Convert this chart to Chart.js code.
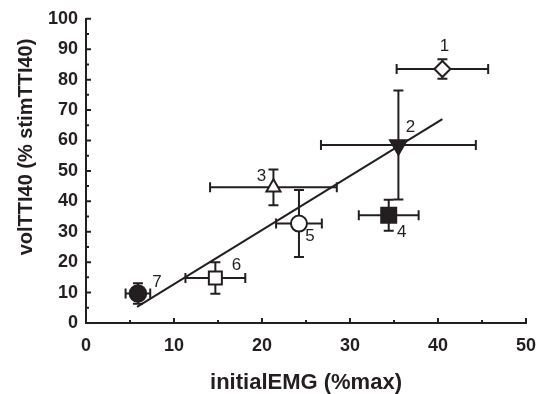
<!DOCTYPE html>
<html>
<head>
<meta charset="utf-8">
<script src="https://cdn.jsdelivr.net/npm/chart.js@4.4.1/dist/chart.umd.min.js"></script>
<style>
  html, body { margin: 0; padding: 0; background: #fff; }
  #wrap { width: 538px; height: 394px; }
</style>
</head>
<body>
<div id="wrap"><canvas id="chart" width="538" height="394"></canvas></div>
<script>
// data
var ptLabels = ['1', '2', '3', '4', '5', '6', '7'];
var emgX = [40.5, 35.5, 21.3, 34.4, 24.2, 14.7, 5.9];
var ttiY = [83.5, 58.5, 44.6, 35.4, 32.7, 14.8, 9.7];
var errX = [5.2, 8.8, 7.2, 3.4, 2.6, 3.4, 1.4];
var errY = [3.2, 17.9, 5.9, 5.1, 11.0, 5.2, 3.4];
var fitX = [5.8, 40.5];
var fitY = [5.3, 67.0];
var xTickVals = [0, 10, 20, 30, 40, 50];
var yTickVals = [0, 10, 20, 30, 40, 50, 60, 70, 80, 90, 100];
var xTitle = 'initialEMG (%max)';
var yTitle = 'volTTI40 (% stimTTI40)';

var ink = '#231f20';
var fontFam = '"Liberation Sans", Arial, sans-serif';

// marker look per point
var styles = ['rectRot', 'triangle', 'triangle', 'rect', 'circle', 'rect', 'circle'];
var rots = [0, 180, 0, 0, 0, 0, 0];
var fills = ['#fff', ink, '#fff', ink, '#fff', '#fff', ink];
var radii = [8, 9.6, 8.1, 10.6, 8, 9.2, 8.3];
// where the number sits next to each point (px)
var labelOffsets = [[2, -23], [12, -18], [-12, -11], [13, 17], [11, 13], [21, -13], [19, -11]];

var points = emgX.map(function (x, i) { return { x: x, y: ttiY[i] }; });
var fitLine = fitX.map(function (x, i) { return { x: x, y: fitY[i] }; });

// error bars under the markers
var errorBars = {
  id: 'errorBars',
  beforeDatasetsDraw: function (chart) {
    var xs = chart.scales.x, ys = chart.scales.y, ctx = chart.ctx;
    var cap = 5;
    ctx.save();
    ctx.strokeStyle = ink;
    ctx.lineWidth = 2;
    for (var i = 0; i < points.length; i++) {
      var px = xs.getPixelForValue(emgX[i]);
      var py = ys.getPixelForValue(ttiY[i]);
      var x1 = xs.getPixelForValue(emgX[i] - errX[i]);
      var x2 = xs.getPixelForValue(emgX[i] + errX[i]);
      var y1 = ys.getPixelForValue(ttiY[i] + errY[i]);
      var y2 = ys.getPixelForValue(ttiY[i] - errY[i]);
      ctx.beginPath();
      ctx.moveTo(x1, py); ctx.lineTo(x2, py);
      ctx.moveTo(x1, py - cap); ctx.lineTo(x1, py + cap);
      ctx.moveTo(x2, py - cap); ctx.lineTo(x2, py + cap);
      ctx.moveTo(px, y1); ctx.lineTo(px, y2);
      ctx.moveTo(px - cap, y1); ctx.lineTo(px + cap, y1);
      ctx.moveTo(px - cap, y2); ctx.lineTo(px + cap, y2);
      ctx.stroke();
    }
    ctx.restore();
  }
};

// inward ticks, axis titles and point numbers
var decorations = {
  id: 'decorations',
  afterDraw: function (chart) {
    var xs = chart.scales.x, ys = chart.scales.y, ctx = chart.ctx;
    var area = chart.chartArea;
    ctx.save();
    ctx.strokeStyle = ink;
    ctx.lineWidth = 2;
    ctx.beginPath();
    for (var v = 0; v <= 50; v += 5) {
      var tx = xs.getPixelForValue(v);
      var len = v % 10 === 0 ? 5 : 3;
      ctx.moveTo(tx, area.bottom); ctx.lineTo(tx, area.bottom - len);
    }
    for (var w = 0; w <= 100; w += 5) {
      var ty = ys.getPixelForValue(w);
      var len2 = w % 10 === 0 ? 5 : 3;
      ctx.moveTo(area.left, ty); ctx.lineTo(area.left + len2, ty);
    }
    ctx.stroke();

    ctx.fillStyle = ink;
    ctx.textAlign = 'center';
    ctx.textBaseline = 'middle';
    ctx.font = 'bold 22px ' + fontFam;
    ctx.fillText(xTitle, (area.left + area.right) / 2, 383);

    ctx.save();
    ctx.translate(26, 147);
    ctx.rotate(-Math.PI / 2);
    ctx.font = 'bold 20px ' + fontFam;
    ctx.fillText(yTitle, 0, 0);
    ctx.restore();

    ctx.font = '17px ' + fontFam;
    for (var i = 0; i < ptLabels.length; i++) {
      var lx = xs.getPixelForValue(emgX[i]) + labelOffsets[i][0];
      var ly = ys.getPixelForValue(ttiY[i]) + labelOffsets[i][1];
      ctx.fillText(ptLabels[i], lx, ly);
    }
    ctx.restore();
  }
};

var tickFont = { family: fontFam, size: 18, weight: 'bold' };

var config = {
  type: 'scatter',
  data: {
    datasets: [{
      label: 'groups',
      data: points,
      pointStyle: styles,
      rotation: rots,
      pointRadius: radii,
      pointHoverRadius: radii,
      pointBackgroundColor: fills,
      pointBorderColor: ink,
      pointBorderWidth: 2
    }, {
      type: 'line',
      label: 'fit',
      data: fitLine,
      borderColor: ink,
      borderWidth: 2,
      pointRadius: 0,
      fill: false
    }]
  },
  options: {
    responsive: false,
    animation: false,
    devicePixelRatio: 1,
    layout: { autoPadding: false, padding: { top: 17, right: 12, left: 0, bottom: 0 } },
    plugins: { legend: { display: false }, tooltip: { enabled: false } },
    scales: {
      x: {
        type: 'linear', min: 0, max: 50,
        afterFit: function (s) { s.height = 71; s.paddingRight = 10; },
        afterBuildTicks: function (s) { s.ticks = xTickVals.map(function (v) { return { value: v }; }); },
        grid: { display: false, drawTicks: false },
        border: { display: true, color: ink, width: 2 },
        ticks: { color: ink, font: tickFont, padding: 12, maxRotation: 0 }
      },
      y: {
        type: 'linear', min: 0, max: 100,
        afterFit: function (s) { s.width = 86; },
        afterBuildTicks: function (s) { s.ticks = yTickVals.map(function (v) { return { value: v }; }); },
        grid: { display: false, drawTicks: false },
        border: { display: true, color: ink, width: 2 },
        ticks: { color: ink, font: tickFont, padding: 8 }
      }
    }
  },
  plugins: [errorBars, decorations]
};

var myChart = new Chart(document.getElementById('chart'), config);
</script>
</body>
</html>
